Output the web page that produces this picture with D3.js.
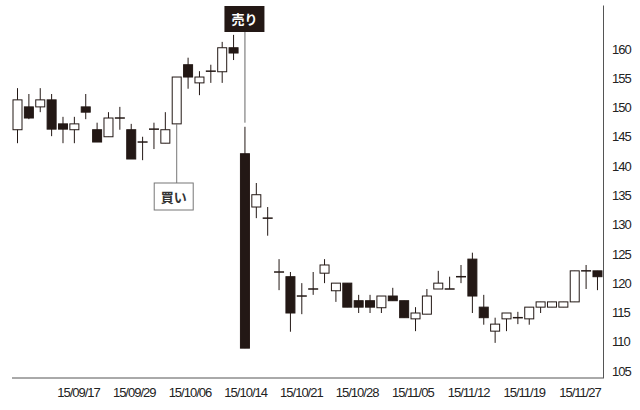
<!DOCTYPE html>
<html>
<head>
<meta charset="utf-8">
<script src="https://cdn.jsdelivr.net/npm/d3@7"></script>
<style>
  body { margin: 0; background: #fff; }
  text { font-family: "Liberation Sans", Arial, sans-serif; }
</style>
</head>
<body>
<script>
'use strict';

// trading days, 2015-09-10 .. 2015-11-30
const dates = ["09/10","09/11","09/14","09/15","09/16","09/17","09/18","09/24","09/25","09/28",
  "09/29","09/30","10/01","10/02","10/05","10/06","10/07","10/08","10/09","10/13",
  "10/14","10/15","10/16","10/19","10/20","10/21","10/22","10/23","10/26","10/27",
  "10/28","10/29","10/30","11/02","11/04","11/05","11/06","11/09","11/10","11/11",
  "11/12","11/13","11/16","11/17","11/18","11/19","11/20","11/24","11/25","11/26",
  "11/27","11/30"];

const open  = [146.2,150.1,150.1,151.3,147.2,146.2,150.1,146.2,145.0,148.2,
  146.2,144.1,146.3,143.9,147.2,157.3,154.2,156.2,156.1,160.2,
  142.1,133.0,131.1,121.9,121.1,117.8,119.0,121.7,118.7,120.0,
  117.0,117.0,115.8,117.8,117.0,113.9,114.7,119.0,119.0,121.1,
  124.1,115.9,111.8,113.9,114.1,113.9,115.9,115.9,115.9,116.8,
  122.1,122.1];
const high  = [153.3,152.3,153.3,152.3,148.4,148.4,152.3,147.4,149.2,150.1,
  147.2,145.0,147.4,149.2,155.2,158.5,156.2,157.3,161.2,162.4,
  146.7,137.1,133.0,124.1,121.9,120.0,121.9,124.1,120.0,120.0,
  118.0,118.0,117.8,119.2,117.0,115.9,119.0,122.1,121.1,123.1,
  125.2,118.0,114.1,114.9,115.1,115.9,116.8,116.8,116.8,122.1,
  123.1,122.1];
const low   = [143.9,148.0,149.2,145.1,143.9,143.9,148.0,144.1,145.0,146.2,
  141.2,141.0,142.9,143.9,147.2,153.2,152.1,154.2,154.2,158.1,
  108.9,131.1,128.1,118.8,111.7,114.7,118.0,120.0,116.8,115.9,
  114.9,114.9,114.9,117.0,114.1,111.8,114.7,119.0,119.0,120.0,
  114.9,112.9,109.8,111.8,113.0,112.9,114.9,115.9,115.9,116.8,
  119.0,118.8];
const close = [151.3,148.2,151.3,146.3,146.3,147.2,149.2,144.1,148.2,148.2,
  141.2,144.1,146.3,146.2,155.2,155.2,155.2,156.2,160.2,159.3,
  108.9,135.1,131.1,121.9,114.9,117.8,119.0,123.1,120.0,115.9,
  115.9,115.9,117.8,117.0,114.1,114.9,117.8,120.0,119.0,121.1,
  117.8,114.1,113.0,114.9,114.1,115.9,116.8,116.8,116.8,122.1,
  122.1,121.1];

const yTicks = [105,110,115,120,125,130,135,140,145,150,155,160];
const xTickIdx = [5,10,15,20,25,30,35,40,45,50];
const xTickLabels = ["15/09/17","15/09/29","15/10/06","15/10/14","15/10/21",
  "15/10/28","15/11/05","15/11/12","15/11/19","15/11/27"];

// annotations: buy on 10/05, sell on 10/14
const buyIdx = 14, buyText = "買い";
const sellIdx = 20, sellText = "売り";

const width = 640, height = 410;
const ink = "#231815";
const axisColor = "#555";

const candles = dates.map((d, i) => ({
  i: i, date: d, o: open[i], h: high[i], l: low[i], c: close[i]
}));

const svg = d3.select('body').append('svg')
  .attr('width', width)
  .attr('height', height);

// index -> x
const x = d3.scaleLinear()
  .domain([-0.44, dates.length - 0.47])
  .range([12, 603]);

// label positions drift slightly from the candles in the original print
const xLabel = d3.scaleLinear()
  .domain([5, 50])
  .range([78.5, 580]);

const y = d3.scaleLinear()
  .domain([103.8, 167.5])
  .range([378, 5]);

const bodyW = 9;

// right axis
const yAxis = d3.axisRight(y)
  .tickValues(yTicks)
  .tickSize(0)
  .tickPadding(9);
const gy = svg.append('g')
  .attr('transform', 'translate(' + x.range()[1] + ',0)')
  .call(yAxis);
gy.select('.domain').attr('stroke', axisColor);
gy.selectAll('text')
  .style('font-size', '13px')
  .style('letter-spacing', '-1px')
  .attr('fill', '#222');

// bottom axis line
svg.append('line')
  .attr('x1', x.range()[0]).attr('x2', x.range()[1])
  .attr('y1', y.range()[0]).attr('y2', y.range()[0])
  .attr('stroke', axisColor);

svg.append('g').selectAll('text')
  .data(xTickIdx)
  .enter()
  .append('text')
  .attr('x', d => xLabel(d))
  .attr('y', y.range()[0] + 19)
  .attr('text-anchor', 'middle')
  .style('font-size', '13px')
  .style('letter-spacing', '-1px')
  .attr('fill', '#222')
  .text((d, k) => xTickLabels[k]);

// candles
const g = svg.append('g');

g.selectAll('.wick')
  .data(candles)
  .enter()
  .append('line')
  .attr('class', 'wick')
  .attr('x1', d => x(d.i) + 0.5).attr('x2', d => x(d.i) + 0.5)
  .attr('y1', d => y(d.h)).attr('y2', d => y(d.l))
  .attr('stroke', ink)
  .attr('stroke-width', 1);

g.selectAll('.body')
  .data(candles.filter(d => Math.abs(d.o - d.c) > 0.05))
  .enter()
  .append('rect')
  .attr('class', 'body')
  .attr('x', d => x(d.i) - bodyW / 2 + 0.5)
  .attr('y', d => y(Math.max(d.o, d.c)))
  .attr('width', bodyW)
  .attr('height', d => y(Math.min(d.o, d.c)) - y(Math.max(d.o, d.c)))
  .attr('fill', d => d.c >= d.o ? '#fff' : ink)
  .attr('stroke', ink)
  .attr('stroke-width', 1);

g.selectAll('.doji')
  .data(candles.filter(d => Math.abs(d.o - d.c) <= 0.05))
  .enter()
  .append('line')
  .attr('class', 'doji')
  .attr('x1', d => x(d.i) - bodyW / 2).attr('x2', d => x(d.i) + bodyW / 2 + 1)
  .attr('y1', d => y(d.c)).attr('y2', d => y(d.c))
  .attr('stroke', ink)
  .attr('stroke-width', 1.5);

// buy note
const buy = candles[buyIdx];
svg.append('line')
  .attr('x1', x(buy.i) + 0.5).attr('x2', x(buy.i) + 0.5)
  .attr('y1', y(buy.l)).attr('y2', 183)
  .attr('stroke', '#777');
svg.append('rect')
  .attr('x', x(buy.i) - 22).attr('y', 183)
  .attr('width', 39).attr('height', 27)
  .attr('fill', '#fff')
  .attr('stroke', '#777');
svg.append('text')
  .attr('x', x(buy.i) - 2.5).attr('y', 201.5)
  .attr('text-anchor', 'middle')
  .style('font-family', '"Noto Sans CJK JP", sans-serif')
  .style('font-size', '13px')
  .style('font-weight', 'bold')
  .attr('fill', '#333')
  .text(buyText);

// sell note
const sell = candles[sellIdx];
svg.append('line')
  .attr('x1', x(sell.i) + 0.5).attr('x2', x(sell.i) + 0.5)
  .attr('y1', 32).attr('y2', y(sell.h + 0.7))
  .attr('stroke', '#666');
svg.append('rect')
  .attr('x', x(sell.i) - 20).attr('y', 6)
  .attr('width', 40).attr('height', 26)
  .attr('fill', ink);
svg.append('text')
  .attr('x', x(sell.i)).attr('y', 24)
  .attr('text-anchor', 'middle')
  .style('font-family', '"Noto Sans CJK JP", sans-serif')
  .style('font-size', '13px')
  .style('font-weight', 'bold')
  .attr('fill', '#fff')
  .text(sellText);
</script>
</body>
</html>
